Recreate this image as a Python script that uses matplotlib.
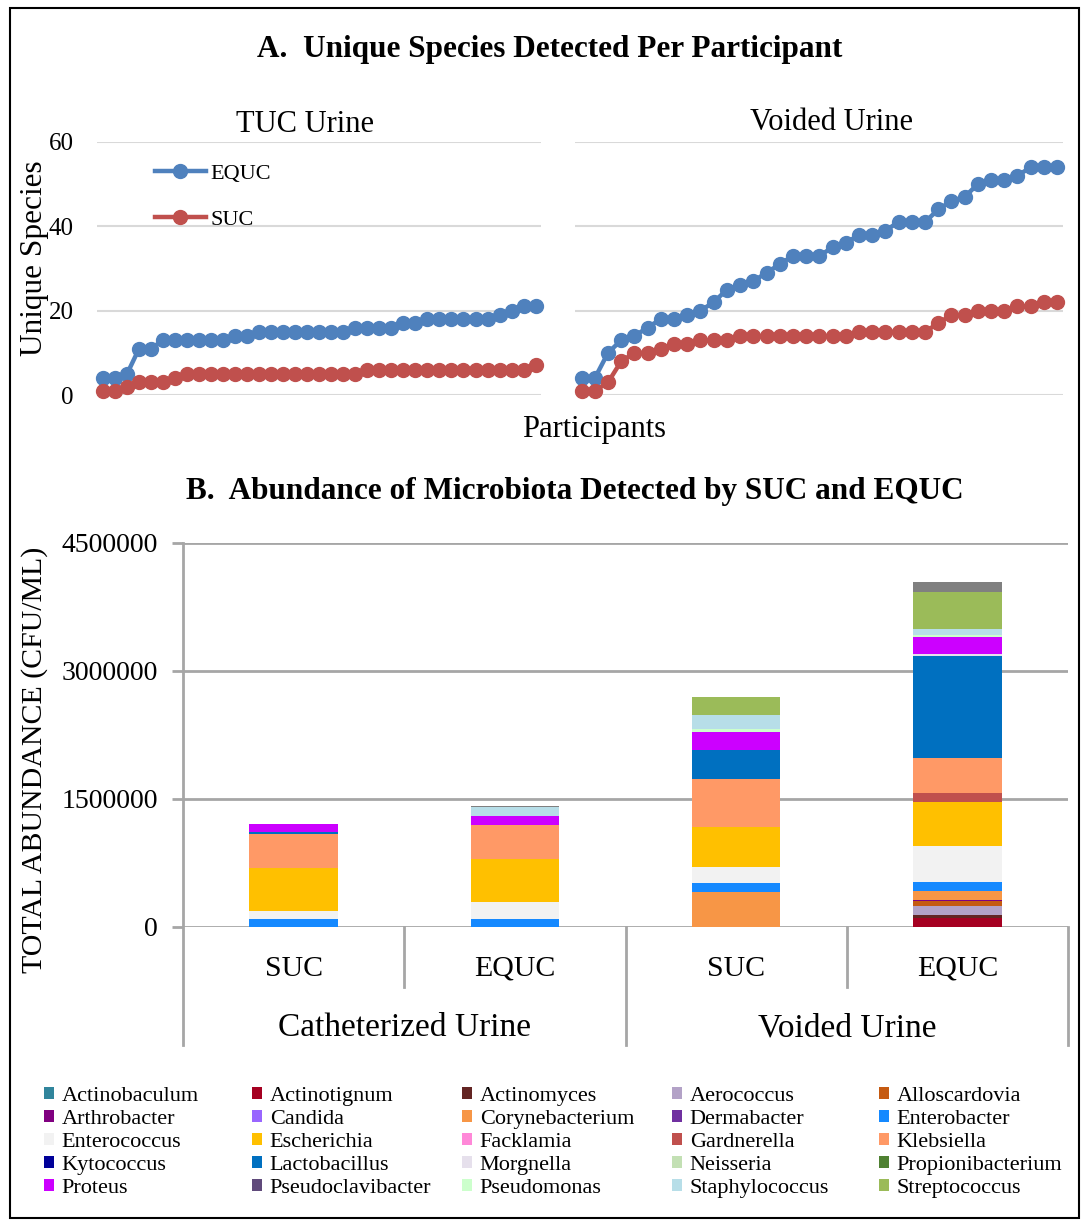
import numpy as np
import matplotlib
matplotlib.use("Agg")
import matplotlib.pyplot as plt
from matplotlib.patches import Rectangle
from matplotlib.transforms import blended_transform_factory

plt.rcParams['font.family'] = ['Liberation Serif', 'DejaVu Serif']

W, H = 1081, 1220

# ---- Panel A: unique species per participant (sorted) ----
tuc_equc = [4, 4, 5, 11, 11, 13, 13, 13, 13, 13, 13, 14, 14, 15, 15, 15, 15, 15, 15,
            15, 15, 16, 16, 16, 16, 17, 17, 18, 18, 18, 18, 18, 18, 19, 20, 21, 21]
tuc_suc = [1, 1, 2, 3, 3, 3, 4, 5, 5, 5, 5, 5, 5, 5, 5, 5, 5, 5, 5,
           5, 5, 5, 6, 6, 6, 6, 6, 6, 6, 6, 6, 6, 6, 6, 6, 6, 7]
void_equc = [4, 4, 10, 13, 14, 16, 18, 18, 19, 20, 22, 25, 26, 27, 29, 31, 33, 33, 33,
             35, 36, 38, 38, 39, 41, 41, 41, 44, 46, 47, 50, 51, 51, 52, 54, 54, 54]
void_suc = [1, 1, 3, 8, 10, 10, 11, 12, 12, 13, 13, 13, 14, 14, 14, 14, 14, 14, 14,
            14, 14, 15, 15, 15, 15, 15, 15, 17, 19, 19, 20, 20, 20, 21, 21, 22, 22]

# ---- Panel B: abundance (CFU/mL) per genus ----
groups = ["Catheterized Urine", "Voided Urine"]
methods = ["SUC", "EQUC", "SUC", "EQUC"]
genera = ["Actinobaculum", "Actinotignum", "Actinomyces", "Aerococcus", "Alloscardovia",
          "Arthrobacter", "Candida", "Corynebacterium", "Dermabacter", "Enterobacter",
          "Enterococcus", "Escherichia", "Facklamia", "Gardnerella", "Klebsiella",
          "Kytococcus", "Lactobacillus", "Morgnella", "Neisseria", "Propionibacterium",
          "Proteus", "Pseudoclavibacter", "Pseudomonas", "Staphylococcus", "Streptococcus",
          "Other"]
suc_cath = [0, 0, 0, 0, 0, 0, 0, 0, 0, 90000, 98000, 504000, 0, 0, 395000,
            0, 27000, 0, 0, 0, 90000, 0, 0, 8000, 0, 0]
equc_cath = [0, 0, 0, 0, 0, 0, 0, 0, 0, 90000, 203000, 500000, 0, 0, 398000,
             0, 0, 0, 0, 0, 105000, 0, 0, 109000, 0, 10000]
suc_void = [0, 0, 0, 0, 0, 0, 0, 406000, 0, 105000, 187000, 469000, 0, 0, 562000,
            0, 340000, 0, 0, 0, 211000, 0, 35000, 164000, 211000, 0]
equc_void = [0, 109000, 27000, 105000, 59000, 12000, 0, 105000, 0, 105000, 422000, 519000,
             0, 113000, 410000, 0, 1195000, 23000, 0, 0, 199000, 0, 23000, 70000, 434000,
             117000]
colors = ["#31859C", "#A50021", "#632523", "#B3A2C7", "#C55A11",
          "#800080", "#9966FF", "#F79646", "#7030A0", "#1589FF",
          "#F2F2F2", "#FFC000", "#FF88D8", "#C0504D", "#FF9966",
          "#000099", "#0070C0", "#E6E0EC", "#C3E0B4", "#4F8132",
          "#CC00FF", "#604A7B", "#CCFFCC", "#B7DEE8", "#9BBB59",
          "#808080"]

fig = plt.figure(figsize=(W / 100, H / 100), dpi=100)


def fx(px):
    return px / W


def fy(py):
    return 1 - py / H


# outer frame
fig.add_artist(Rectangle((fx(10), fy(1218)), fx(1079) - fx(10), fy(8) - fy(1218),
                         transform=fig.transFigure, fill=False, lw=1.5, ec="black"))

blue, red = "#4F81BD", "#C0504D"
participants = np.arange(len(tuc_equc))

ax1 = fig.add_axes([fx(97), fy(395), fx(541) - fx(97), fy(142) - fy(395)])
ax2 = fig.add_axes([fx(575), fy(395), fx(1063) - fx(575), fy(142) - fy(395)])
for ax, eq, su in [(ax1, tuc_equc, tuc_suc), (ax2, void_equc, void_suc)]:
    ax.plot(participants, eq, color=blue, lw=3.2, marker="o", ms=10, label="EQUC", clip_on=False)
    ax.plot(participants, su, color=red, lw=3.2, marker="o", ms=10, label="SUC", clip_on=False)
    ax.set_ylim(0, 60)
    ax.set_xlim(-0.5, 36.45)
    ax.set_yticks([0, 20, 40, 60])
    ax.set_xticks([])
    ax.yaxis.grid(True, color="#D9D9D9", lw=1.5)
    ax.set_axisbelow(True)
    ax.tick_params(axis="y", length=0, pad=17, labelsize=18)
    for s in ax.spines.values():
        s.set_visible(False)
ax2.tick_params(axis="y", labelleft=False)

ax1.legend(loc="upper left", bbox_to_anchor=(0.11, 0.95), frameon=False, fontsize=16,
           handlelength=2.3, handletextpad=0.2, labelspacing=1.12, borderaxespad=0)

fig.text(fx(550), fy(50), "A.  Unique Species Detected Per Participant",
         ha="center", va="center", fontsize=22.5, fontweight="bold")
fig.text(fx(305), fy(125), "TUC Urine", ha="center", va="center", fontsize=22)
fig.text(fx(832), fy(123), "Voided Urine", ha="center", va="center", fontsize=22)
fig.text(fx(594), fy(429), "Participants", ha="center", va="center", fontsize=22)
fig.text(fx(35), fy(258), "Unique Species", ha="center", va="center", rotation=90, fontsize=22.5)

# ---- Panel B ----
ax3 = fig.add_axes([fx(183), fy(927), fx(1068) - fx(183), fy(543) - fy(927)])
xpos = np.arange(len(methods))
bottom = np.zeros(len(methods))
for i, g in enumerate(genera):
    vals = np.array([suc_cath[i], equc_cath[i], suc_void[i], equc_void[i]])
    ax3.bar(xpos, vals, width=0.4, bottom=bottom, color=colors[i],
            label=g if g != "Other" else "_nolegend_", zorder=3)
    bottom += vals

ax3.set_xlim(-0.5, 3.5)
ax3.set_ylim(0, 4500000)
ax3.set_yticks([0, 1500000, 3000000, 4500000])
ax3.set_yticklabels(["0", "1500000", "3000000", "4500000"])
ax3.set_xticks([])
ax3.yaxis.grid(True, color="#A6A6A6", lw=2)
ax3.tick_params(axis="y", length=8, width=2, color="#A6A6A6", pad=10, labelsize=20)
for s in ax3.spines.values():
    s.set_visible(False)

tr = blended_transform_factory(ax3.transData, ax3.transAxes)
ax3.plot([-0.5, -0.5], [-0.307, 1], transform=tr, color="#A6A6A6", lw=2, clip_on=False)
for xb, depth in [(0.5, -0.156), (1.5, -0.307), (2.5, -0.156), (3.5, -0.307)]:
    ax3.plot([xb, xb], [depth, 0], transform=tr, color="#A6A6A6", lw=2, clip_on=False)
for xi, m in zip(xpos, methods):
    ax3.text(xi, -0.109, m, transform=tr, ha="center", va="center", fontsize=21.5)
for gi, g in enumerate(groups):
    ax3.text(0.5 + 2 * gi, -0.263, g, transform=tr, ha="center", va="center", fontsize=24)

fig.text(fx(575), fy(491), "B.  Abundance of Microbiota Detected by SUC and EQUC",
         ha="center", va="center", fontsize=22.5, fontweight="bold")
fig.text(fx(35), fy(760), "TOTAL ABUNDANCE (CFU/ML)", ha="center", va="center",
         rotation=90, fontsize=21.5)

handles, labels = ax3.get_legend_handles_labels()
col_x = [44, 252, 462, 672, 879]
for c in range(5):
    fig.legend(handles[c::5], labels[c::5], loc="upper left",
               bbox_to_anchor=(fx(col_x[c]), fy(1087)), frameon=False, fontsize=16,
               handlelength=0.45, handleheight=0.45, handletextpad=0.35,
               labelspacing=0.18, borderpad=0, borderaxespad=0)

fig.savefig("out.png", dpi=100)
